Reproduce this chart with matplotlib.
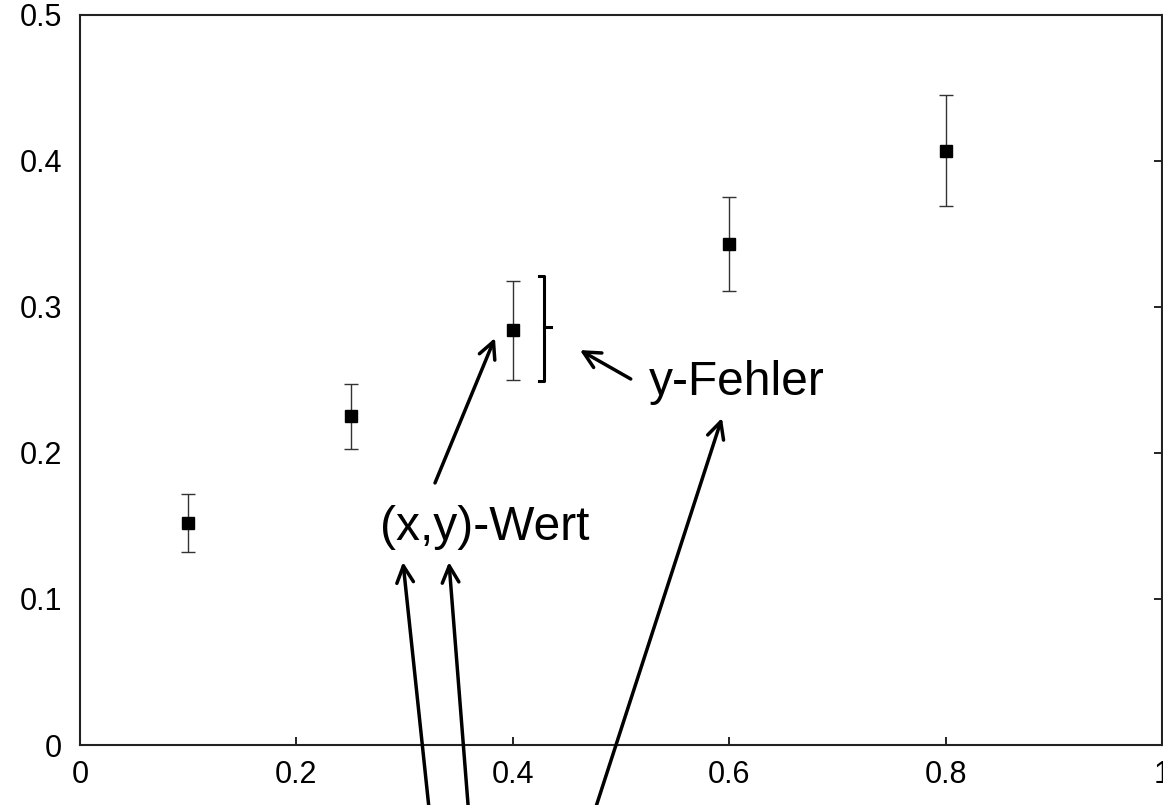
import numpy as np
import matplotlib
matplotlib.use('Agg')
import matplotlib.pyplot as plt

plt.rcParams['font.family'] = ['Liberation Sans', 'DejaVu Sans']

# Messwerte
x = [0.1, 0.25, 0.4, 0.6, 0.8]
y = [0.152, 0.225, 0.284, 0.343, 0.407]
yerr = [0.020, 0.022, 0.034, 0.032, 0.038]

xticks = [0, 0.2, 0.4, 0.6, 0.8, 1.0]
xticklabels = ['0', '0.2', '0.4', '0.6', '0.8', '1']
yticks = [0, 0.1, 0.2, 0.3, 0.4, 0.5]
yticklabels = ['0', '0.1', '0.2', '0.3', '0.4', '0.5']

fig = plt.figure(figsize=(11.63, 8.05), dpi=100)
ax = fig.add_axes([80/1163, 60/805, 1082/1163, 730/805])

ax.errorbar(x, y, yerr=yerr, fmt='s', color='black', ms=8.5, ecolor='#333333',
            elinewidth=1.0, capsize=5, capthick=1.0)

ax.set_xlim(0, 1)
ax.set_ylim(0, 0.5)
ax.set_xticks(xticks)
ax.set_xticklabels(xticklabels)
ax.set_yticks(yticks)
ax.set_yticklabels(yticklabels)
ax.tick_params(axis='x', direction='in', length=6, width=1.2, labelsize=22, pad=11, top=False)
ax.tick_params(axis='y', direction='in', length=6, width=1.2, labelsize=22, pad=13,
               left=False, right=True, labelleft=True)
for s in ax.spines.values():
    s.set_linewidth(1.5)
    s.set_color('#222222')

# Klammer fuer y-Fehler
bx = 0.429
ax.plot([bx - 0.005, bx, bx, bx - 0.005], [0.3212, 0.3212, 0.2493, 0.2493],
        color='black', lw=2.2, clip_on=False)
ax.plot([bx, bx + 0.006], [0.2863, 0.2863], color='black', lw=2.2)

arr = dict(arrowstyle='->', color='black', lw=2.5, mutation_scale=30, shrinkA=0, shrinkB=0)

ax.text(0.607, 0.248, 'y-Fehler', fontsize=34.5, ha='center', va='center')
ax.annotate('', xy=(0.462, 0.2705), xytext=(0.509, 0.2507), arrowprops=arr)

ax.text(0.374, 0.149, '(x,y)-Wert', fontsize=34.5, ha='center', va='center')
ax.annotate('', xy=(0.3835, 0.2788), xytext=(0.3281, 0.1795), arrowprops=arr)

ax.annotate('', xy=(0.2985, 0.1253), xytext=(0.3235, -0.05), arrowprops=arr,
            annotation_clip=False)
ax.annotate('', xy=(0.341, 0.1253), xytext=(0.3596, -0.05), arrowprops=arr,
            annotation_clip=False)
ax.annotate('', xy=(0.5933, 0.224), xytext=(0.4735, -0.05), arrowprops=arr,
            annotation_clip=False)

fig.savefig('out.png', dpi=100)
